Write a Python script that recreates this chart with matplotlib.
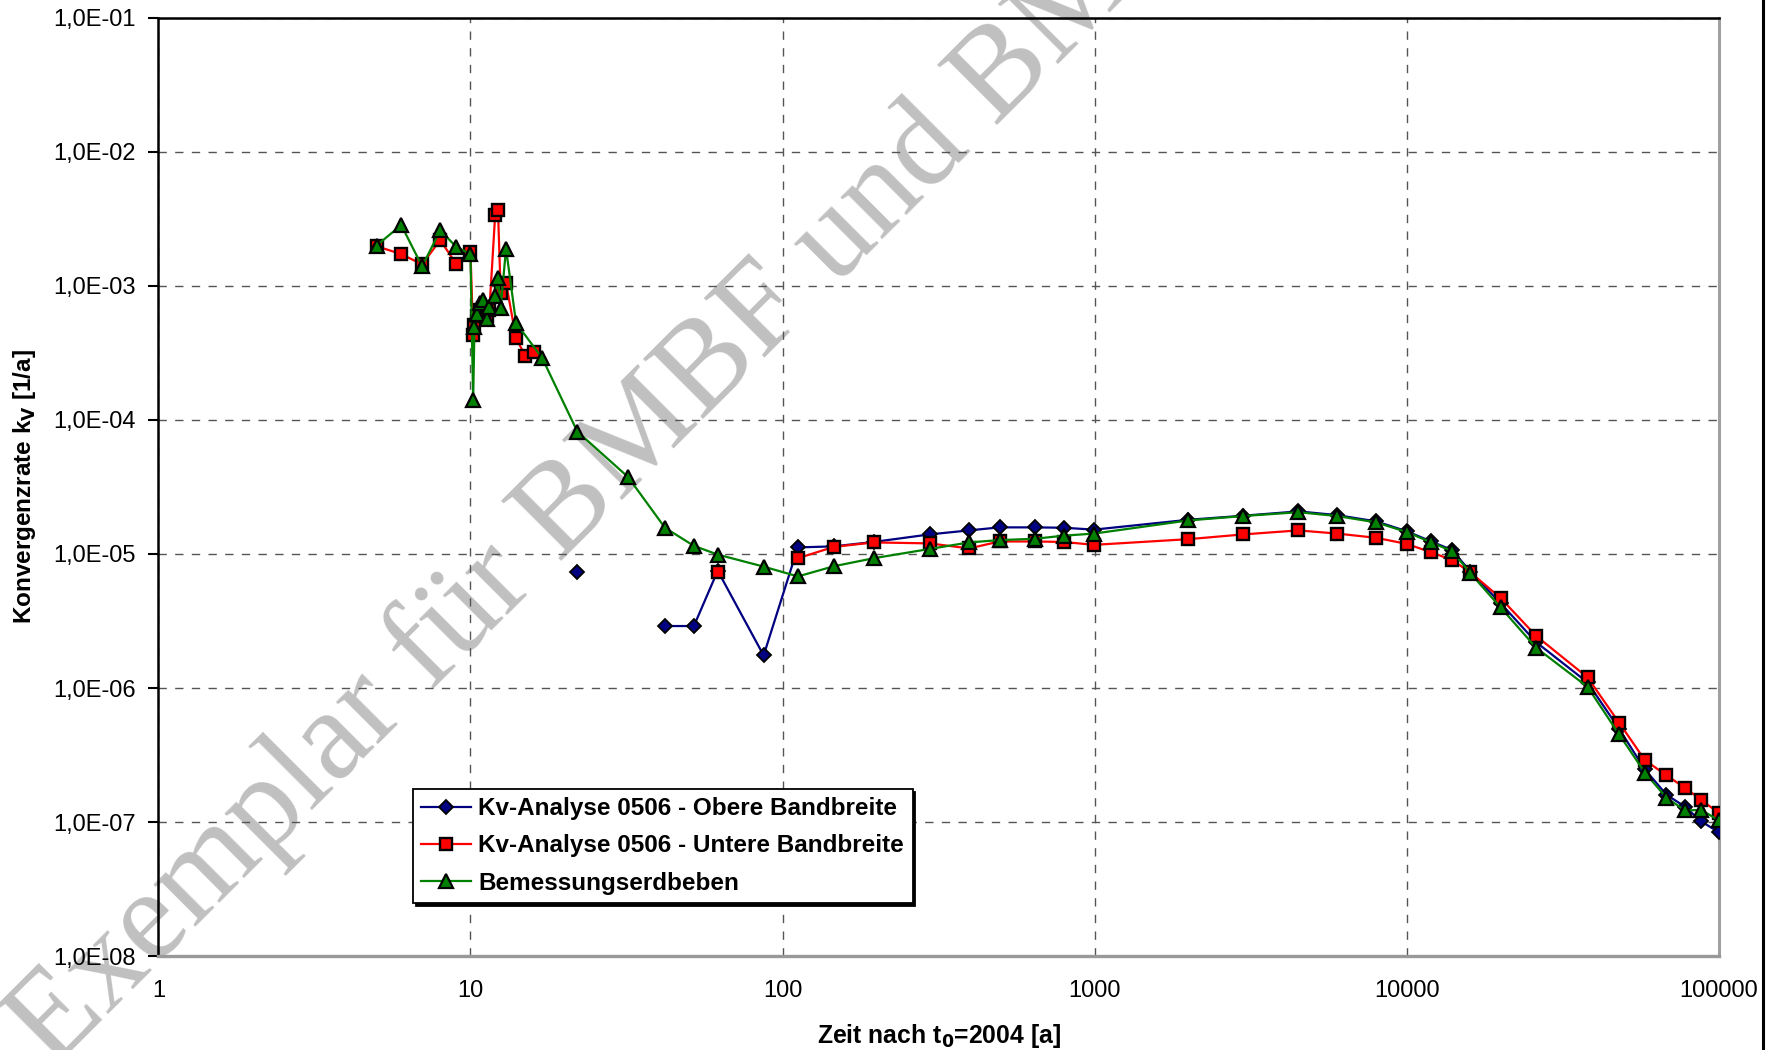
import numpy as np
import matplotlib
matplotlib.use("Agg")
import matplotlib.pyplot as plt
from matplotlib.lines import Line2D

plt.rcParams["font.family"] = ["Liberation Sans", "DejaVu Sans"]
plt.rcParams["lines.scale_dashes"] = False

nan = np.nan

# Kv-Analyse 0506 - Obere Bandbreite
x_obere = [22, 32, 42, 52, 62, 87, 112, 146, 196, 296, 396, 496, 646, 796, 996,
           1996, 2996, 4496, 5996, 7996, 9996, 11996, 13996, 15996, 19996, 25996,
           37996, 47996, 57996, 67996, 77996, 87996, 99996]
y_obere = [7.3e-6, nan, 2.9e-6, 2.9e-6, 7.5e-6, 1.75e-6, 1.12e-5, 1.14e-5, 1.23e-5,
           1.4e-5, 1.5e-5, 1.58e-5, 1.58e-5, 1.57e-5, 1.52e-5,
           1.8e-5, 1.93e-5, 2.08e-5, 1.95e-5, 1.75e-5, 1.48e-5, 1.24e-5, 1.07e-5,
           7.4e-6, 4.3e-6, 2.2e-6, 1.1e-6, 4.95e-7, 2.47e-7, 1.6e-7, 1.3e-7,
           1.01e-7, 8.4e-8]

# Kv-Analyse 0506 - Untere Bandbreite
x_untere = [5, 6, 7, 8, 9, 10, 10.2, 10.3, 10.5, 10.7, 11, 11.3, 11.5, 12, 12.25,
            12.5, 13, 14, 15, 16, 40, 62, 87, 112, 146, 196, 296, 396, 496, 646,
            796, 996, 1996, 2996, 4496, 5996, 7996, 9996, 11996, 13996, 15996,
            19996, 25996, 37996, 47996, 57996, 67996, 77996, 87996, 99996]
y_untere = [1.98e-3, 1.73e-3, 1.45e-3, 2.2e-3, 1.46e-3, 1.8e-3, 4.3e-4, 5.1e-4,
            6.0e-4, 6.6e-4, 6.9e-4, 6.0e-4, 6.6e-4, 3.4e-3, 3.7e-3,
            8.8e-4, 1.06e-3, 4.07e-4, 3.0e-4, 3.2e-4, nan, 7.4e-6, nan, 9.3e-6,
            1.13e-5, 1.22e-5, 1.2e-5, 1.1e-5, 1.24e-5, 1.24e-5, 1.23e-5, 1.17e-5,
            1.29e-5, 1.4e-5, 1.5e-5, 1.42e-5, 1.32e-5, 1.19e-5, 1.03e-5, 9.0e-6,
            7.3e-6, 4.7e-6, 2.45e-6, 1.2e-6, 5.5e-7, 2.9e-7, 2.23e-7, 1.8e-7,
            1.46e-7, 1.17e-7]

# Bemessungserdbeben
x_bem = [5, 6, 7, 8, 9, 10, 10.2, 10.3, 10.5, 10.7, 11, 11.3, 11.5, 12, 12.25,
         12.5, 13, 14, 17, 22, 32, 42, 52, 62, 87, 112, 146, 196, 296, 396, 496,
         646, 796, 996, 1996, 2996, 4496, 5996, 7996, 9996, 11996, 13996, 15996,
         19996, 25996, 37996, 47996, 57996, 67996, 77996, 87996, 99996]
y_bem = [2.0e-3, 2.85e-3, 1.4e-3, 2.6e-3, 1.96e-3, 1.73e-3, 1.42e-4, 4.9e-4,
         6.2e-4, 7.4e-4, 7.8e-4, 5.7e-4, 7.0e-4, 8.4e-4, 1.14e-3,
         6.9e-4, 1.9e-3, 5.3e-4, 2.88e-4, 8.2e-5, 3.75e-5, 1.57e-5, 1.15e-5,
         9.9e-6, 8.05e-6, 6.8e-6, 8.1e-6, 9.3e-6, 1.09e-5, 1.22e-5, 1.27e-5,
         1.3e-5, 1.37e-5, 1.42e-5, 1.78e-5, 1.92e-5, 2.05e-5, 1.92e-5, 1.72e-5,
         1.46e-5, 1.22e-5, 1.05e-5, 7.2e-6, 4.0e-6, 2.0e-6, 1.02e-6, 4.5e-7,
         2.34e-7, 1.52e-7, 1.22e-7, 1.23e-7, 1.03e-7]

labels = ["Kv-Analyse 0506 - Obere Bandbreite",
          "Kv-Analyse 0506 - Untere Bandbreite",
          "Bemessungserdbeben"]

x_ticks = [1, 10, 100, 1000, 10000, 100000]
x_ticklabels = ["1", "10", "100", "1000", "10000", "100000"]
y_ticks = [1e-1, 1e-2, 1e-3, 1e-4, 1e-5, 1e-6, 1e-7, 1e-8]
y_ticklabels = ["1,0E-01", "1,0E-02", "1,0E-03", "1,0E-04",
                "1,0E-05", "1,0E-06", "1,0E-07", "1,0E-08"]

fig = plt.figure(figsize=(17.74, 10.5), dpi=100)
ax = fig.add_axes([0.0893, 0.0895, 0.8795, 0.8934])

ax.plot(x_obere, y_obere, color="#000080", lw=1.6, marker="D", ms=7,
        mfc="#000080", mec="black", mew=1.3, label=labels[0], zorder=3)
ax.plot(x_untere, y_untere, color="#ff0000", lw=1.6, marker="s", ms=9,
        mfc="#ff0000", mec="black", mew=1.7, label=labels[1], zorder=4)
ax.plot(x_bem, y_bem, color="#008000", lw=1.6, marker="^", ms=9.5,
        mfc="#008000", mec="black", mew=1.6, label=labels[2], zorder=5)

ax.set_xscale("log")
ax.set_yscale("log")
ax.set_xlim(1, 100000)
ax.set_ylim(1e-8, 1e-1)
ax.set_xticks(x_ticks)
ax.set_xticklabels(x_ticklabels)
ax.set_yticks(y_ticks)
ax.set_yticklabels(y_ticklabels)
ax.minorticks_off()
ax.tick_params(axis="x", length=0, pad=17, labelsize=17)
ax.tick_params(axis="y", length=7, width=1.5, pad=9, labelsize=17, direction="out")

ax.grid(True, which="major", color="#555555", lw=1.0, linestyle=(0, (6, 6)))

ax.spines["top"].set_color("black")
ax.spines["top"].set_linewidth(1.8)
ax.spines["left"].set_color("black")
ax.spines["left"].set_linewidth(1.8)
ax.spines["bottom"].set_color("#999999")
ax.spines["bottom"].set_linewidth(2.4)
ax.spines["right"].set_color("#a0a0a0")
ax.spines["right"].set_linewidth(2.2)

ax.set_xlabel("Zeit nach t$_\\mathbf{0}$=2004 [a]", fontsize=17.8, fontweight="bold")
ax.set_ylabel("Konvergenzrate k$_\\mathbf{V}$ [1/a]", fontsize=17.5, fontweight="bold")
ax.xaxis.set_label_coords(0.5, -0.07)
ax.yaxis.set_label_coords(-0.077, 0.5)

leg = ax.legend(loc="lower left", bbox_to_anchor=(0.163, 0.0565), borderaxespad=0,
                fancybox=False, edgecolor="black", framealpha=1,
                prop={"size": 17.5, "weight": "bold"}, handlelength=2.05,
                handletextpad=0.3, labelspacing=0.58, borderpad=0.35,
                shadow={"color": "black", "alpha": 1})
leg.get_frame().set_linewidth(1.3)
leg.set_zorder(10)

# watermark
ax.text(0.341, 0.5505, "Exemplar für BMBF und BMU", transform=fig.transFigure,
        fontsize=93, family="Liberation Serif", color="#c0c0c0",
        rotation=45, rotation_mode="anchor", ha="center", va="center",
        zorder=1.5, clip_on=False)

fig.add_artist(Line2D([0.9938, 0.9938], [0, 1], color="black", lw=2.2,
                      transform=fig.transFigure))

fig.savefig("out.png", dpi=100)
